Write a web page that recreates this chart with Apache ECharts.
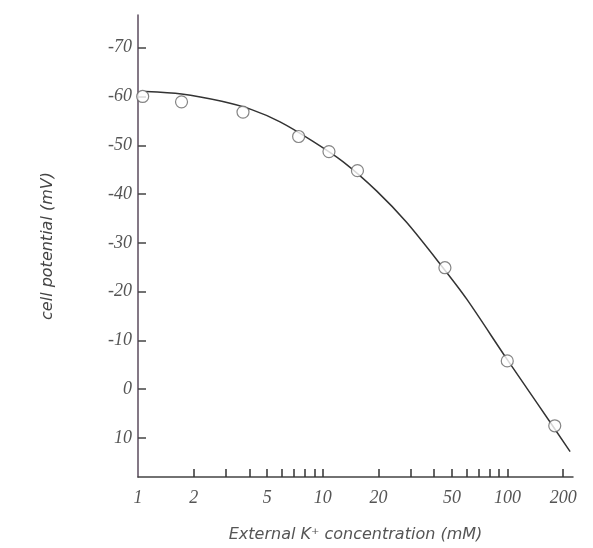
<!DOCTYPE html>
<html>
<head>
<meta charset="utf-8">
<title>cell potential</title>
<script src="https://cdn.jsdelivr.net/npm/echarts@6/dist/echarts.min.js"></script>
<style>
    html, body { margin: 0; padding: 0; background: #fff; }
    #main { width: 593px; height: 548px; }
</style>
</head>
<body>
<div id="main"></div>
<script>
///测量点 (外部K+浓度 mM, 膜电位 mV)
var concPts = [1.06, 1.72, 3.7, 7.4, 10.8, 15.4, 45.8, 99.6, 180];
var potPts = [-60, -58.9, -56.8, -51.8, -48.7, -44.8, -24.9, -5.8, 7.5];

///拟合曲线
var concFit = [1.1, 1.72, 2.84, 4.12, 5.87, 8.85, 12.9, 19.6, 28.4, 44.7, 60, 99, 146, 218];
var potFit = [-61.0, -60.5, -59.0, -57.3, -54.8, -50.8, -46.6, -40.6, -34.2, -24.9, -18.5, -6.2, 3.1, 12.8];

///刻度
var xLabelVals = [1, 2, 5, 10, 20, 50, 100, 200];
var xTickVals = [2, 3, 4, 5, 6, 7, 8, 9, 10, 20, 30, 40, 50, 60, 70, 80, 90, 100, 200];
var yTickVals = [-70, -60, -50, -40, -30, -20, -10, 0, 10];

function lg(v) { return Math.log(v) / Math.LN10; }

function toPairs(xs, ys) {
    var out = [];
    for (var i = 0; i < xs.length; i++) {
        out.push([lg(xs[i]), ys[i]]);
    }
    return out;
}

var myChart = echarts.init(document.getElementById('main'));
var option = {
    backgroundColor: '#fff',
    animation: false,
    grid: { left: 138, right: 20, top: 15, bottom: 71, containLabel: false },
    xAxis: {
        type: 'value',
        min: 0,
        max: 2.354,
        name: 'External K\u207A concentration (mM)',
        nameLocation: 'middle',
        nameGap: 50,
        nameTextStyle: { fontFamily: 'DejaVu Sans', fontStyle: 'italic', fontSize: 16, color: '#555' },
        splitLine: { show: false },
        axisLine: { onZero: false, lineStyle: { color: '#444', width: 1.5 } },
        axisTick: {
            inside: true,
            length: 8,
            customValues: xTickVals.map(lg),
            lineStyle: { color: '#333', width: 1.5 }
        },
        axisLabel: {
            customValues: xLabelVals.map(lg),
            margin: 12,
            fontFamily: 'Liberation Serif',
            fontStyle: 'italic',
            fontSize: 18,
            color: '#555',
            formatter: function (v) { return String(Math.round(Math.pow(10, v))); }
        }
    },
    yAxis: {
        type: 'value',
        inverse: true,
        min: -76.7,
        max: 18,
        name: 'cell potential (mV)',
        nameLocation: 'middle',
        nameGap: 82,
        nameRotate: 90,
        nameTextStyle: { fontFamily: 'DejaVu Sans', fontStyle: 'italic', fontSize: 16, color: '#444' },
        splitLine: { show: false },
        axisLine: { onZero: false, lineStyle: { color: '#5b4b5e', width: 1.5 } },
        axisTick: {
            inside: true,
            length: 8,
            customValues: yTickVals,
            lineStyle: { color: '#444', width: 1.5 }
        },
        axisLabel: {
            customValues: yTickVals,
            margin: 6,
            fontFamily: 'Liberation Serif',
            fontStyle: 'italic',
            fontSize: 18,
            color: '#555'
        }
    },
    series: [
        {
            name: 'fit',
            type: 'line',
            data: toPairs(concFit, potFit),
            smooth: 0.3,
            showSymbol: false,
            symbol: 'none',
            lineStyle: { color: '#333', width: 1.5 },
            z: 2
        },
        {
            name: 'measured',
            type: 'scatter',
            data: toPairs(concPts, potPts),
            symbol: 'circle',
            symbolSize: 12,
            itemStyle: { color: '#fff', borderColor: '#666', borderWidth: 1.2 },
            z: 3
        }
    ]
};
if (option && typeof option === "object") {
    myChart.setOption(option, true);
}
</script>
</body>
</html>
